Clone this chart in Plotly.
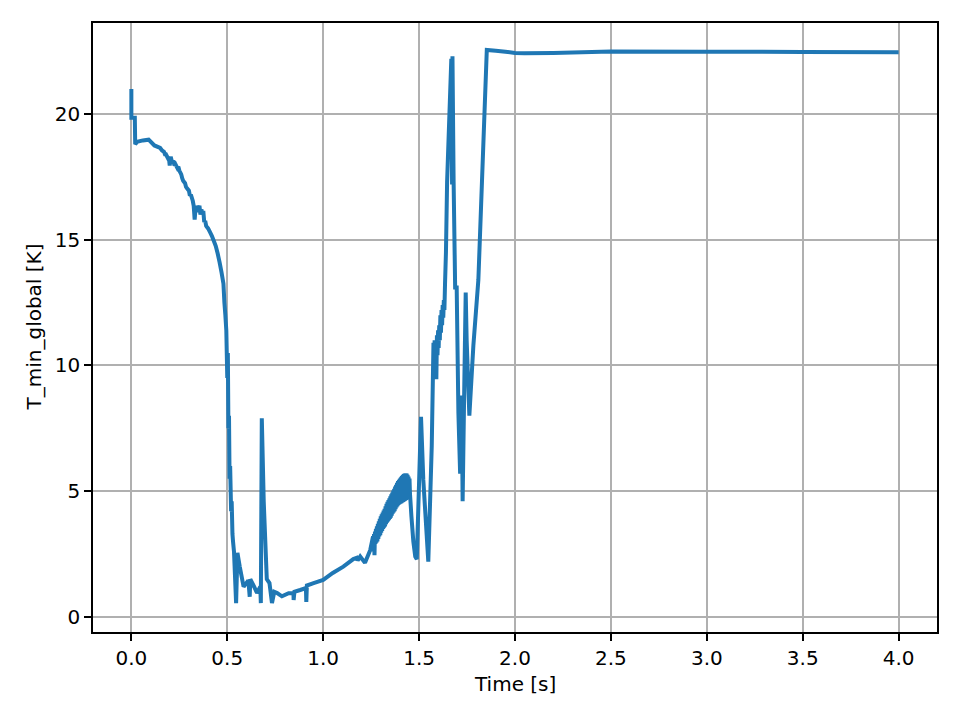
import plotly.graph_objects as go

# ---- values: Time [s] / T_min_global [K] ----
# start and slow decline
seg1_t = [0.0, 0.0, 0.018, 0.02, 0.03, 0.06, 0.09, 0.12, 0.15, 0.16, 0.17, 0.175, 0.18,
          0.19, 0.195, 0.2, 0.205, 0.21, 0.22, 0.225, 0.23, 0.24, 0.245, 0.25, 0.26, 0.265,
          0.27, 0.28, 0.285, 0.29, 0.30, 0.305, 0.31, 0.32, 0.325, 0.33, 0.335, 0.34, 0.345,
          0.35, 0.355, 0.36, 0.365, 0.37, 0.375, 0.38, 0.385, 0.39, 0.40, 0.41, 0.42, 0.43,
          0.44, 0.45, 0.46, 0.47, 0.48, 0.485, 0.49, 0.495]
seg1_T = [21.0, 19.85, 19.85, 18.8, 18.9, 18.95, 18.98, 18.75, 18.65, 18.55, 18.5, 18.4, 18.4,
          18.25, 18.3, 17.95, 18.3, 18.15, 18.1, 17.95, 18.0, 17.85, 17.9, 17.75, 17.6, 17.45,
          17.35, 17.25, 17.1, 17.05, 16.95, 16.75, 16.8, 16.55, 16.35, 15.8, 16.3, 16.1, 16.35,
          16.2, 16.35, 16.0, 16.2, 16.05, 16.15, 15.7, 15.75, 15.55, 15.45, 15.3, 15.15, 14.95,
          14.75, 14.45, 14.1, 13.7, 13.25, 12.5, 12.0, 11.4]

# drop and the low plateau
seg2_t = [0.5, 0.503, 0.506, 0.509, 0.512, 0.515, 0.52, 0.523, 0.527, 0.53, 0.535,
          0.546, 0.553, 0.565, 0.585, 0.61, 0.617, 0.62, 0.64, 0.655, 0.672, 0.675, 0.68,
          0.69, 0.706, 0.72, 0.733, 0.745, 0.76, 0.785, 0.82, 0.845, 0.846, 0.85, 0.88, 0.91,
          0.912, 0.915, 0.95, 1.0, 1.05, 1.105, 1.157, 1.175, 1.18, 1.193, 1.218, 1.245]
seg2_T = [9.5, 10.5, 7.5, 8.0, 5.5, 6.0, 4.2, 4.6, 3.3, 3.0, 2.6,
          0.55, 2.55, 2.0, 1.2, 1.45, 0.8, 1.5, 1.2, 0.95, 1.2, 0.55, 7.9,
          4.6, 1.5, 1.35, 0.55, 1.0, 0.95, 0.82, 0.94, 0.95, 0.67, 1.0, 1.07, 1.15,
          0.6, 1.25, 1.34, 1.47, 1.75, 2.0, 2.3, 2.35, 2.25, 2.4, 2.15, 2.65]

# oscillating band 1.26 - 1.45 s: upper and lower swings
band_hi_t = [1.260, 1.265, 1.270, 1.275, 1.280, 1.285, 1.290, 1.295, 1.300, 1.305, 1.310,
             1.315, 1.320, 1.325, 1.330, 1.335, 1.340, 1.345, 1.350, 1.355, 1.360, 1.365,
             1.370, 1.375, 1.380, 1.385, 1.390, 1.395, 1.400, 1.405, 1.410, 1.415, 1.420,
             1.425, 1.430, 1.435, 1.440, 1.445, 1.450]
band_hi_T = [3.2, 3.3, 3.4, 3.5, 3.6, 3.7, 3.8, 3.9, 4.0, 4.08, 4.15,
             4.23, 4.3, 4.4, 4.5, 4.58, 4.65, 4.72, 4.8, 4.88, 4.95, 5.03,
             5.1, 5.18, 5.25, 5.33, 5.4, 5.45, 5.5, 5.55, 5.6, 5.64, 5.68,
             5.7, 5.71, 5.7, 5.65, 5.58, 5.5]
band_lo_t = [1.2625, 1.2675, 1.2725, 1.2775, 1.2825, 1.2875, 1.2925, 1.2975, 1.3025, 1.3075,
             1.3125, 1.3175, 1.3225, 1.3275, 1.3325, 1.3375, 1.3425, 1.3475, 1.3525, 1.3575,
             1.3625, 1.3675, 1.3725, 1.3775, 1.3825, 1.3875, 1.3925, 1.3975, 1.4025, 1.4075,
             1.4125, 1.4175, 1.4225, 1.4275, 1.4325, 1.4375, 1.4425, 1.4475, 1.4525]
band_lo_T = [2.6, 2.45, 2.9, 2.95, 3.0, 3.1, 3.2, 3.25, 3.35, 3.42,
             3.5, 3.55, 3.6, 3.68, 3.75, 3.8, 3.85, 3.9, 3.95, 4.02,
             4.1, 4.15, 4.2, 4.28, 4.35, 4.4, 4.45, 4.48, 4.5, 4.52,
             4.55, 4.57, 4.6, 4.62, 4.65, 4.68, 4.7, 4.8, 4.9]

# recovery, spikes and final plateau
seg3_t = [1.46, 1.47, 1.48, 1.488,
          1.510, 1.522, 1.548, 1.566, 1.575, 1.578, 1.581, 1.584, 1.587, 1.59, 1.593, 1.596,
          1.599, 1.602, 1.605, 1.608, 1.611, 1.614, 1.617, 1.62, 1.623, 1.626, 1.629, 1.632,
          1.635, 1.64, 1.646, 1.668, 1.672, 1.674, 1.68, 1.688,
          1.696, 1.705, 1.714, 1.722, 1.727, 1.736, 1.743, 1.748, 1.762, 1.783, 1.809, 1.853,
          1.9, 1.95, 2.0, 2.05, 2.2, 2.5, 3.0, 3.5, 4.0]
seg3_T = [4.0, 3.0, 2.4, 2.3,
          7.96, 5.45, 2.2, 6.8, 10.9, 9.8, 11.0, 9.5, 10.8, 9.45, 11.2, 10.4,
          11.4, 10.7, 11.6, 11.0, 12.0, 11.3, 12.2, 11.6, 12.4, 11.9, 12.6, 12.2,
          13.2, 14.5, 17.3, 22.2, 17.2, 22.3, 17.3, 13.1,
          13.1, 8.1, 5.7, 8.8, 4.6, 9.4, 12.9, 11.0, 8.0, 10.8, 13.4, 22.55,
          22.52, 22.48, 22.43, 22.42, 22.43, 22.49, 22.48, 22.47, 22.46]

x_ticks = [0.0, 0.5, 1.0, 1.5, 2.0, 2.5, 3.0, 3.5, 4.0]
y_ticks = [0, 5, 10, 15, 20]

# assemble the time series in order (band: alternate upper/lower samples)
band_t, band_T = [], []
for th, vh, tl, vl in zip(band_hi_t, band_hi_T, band_lo_t, band_lo_T):
    band_t += [th, tl]
    band_T += [vh, vl]
time_s = seg1_t + seg2_t + band_t + seg3_t
t_min_global = seg1_T + seg2_T + band_T + seg3_T

FONT = "DejaVu Sans"
fig = go.Figure()
fig.add_trace(go.Scatter(
    x=time_s, y=t_min_global, mode="lines",
    line=dict(color="#1f77b4", width=4, simplify=False),
    showlegend=False,
))

axis_common = dict(
    showline=True, mirror=True, linecolor="black", linewidth=1.6,
    showgrid=True, gridcolor="#b0b0b0", gridwidth=1.6,
    zeroline=False, ticks="outside", ticklen=7, tickwidth=1.6, tickcolor="black",
    tickfont=dict(family=FONT, size=20, color="black"),
)

# page body has an 8px margin, so plot-area margins are shifted by 8px
fig.update_layout(
    width=960, height=720,
    margin=dict(l=85, r=31, t=15, b=96),
    paper_bgcolor="white", plot_bgcolor="white",
    font=dict(family=FONT, size=20, color="black"),
    xaxis=dict(range=[-0.2, 4.2], tickvals=x_ticks,
               ticktext=[f"{v:.1f}" for v in x_ticks], **axis_common),
    yaxis=dict(range=[-0.6, 23.62], tickvals=y_ticks,
               ticktext=[str(v) for v in y_ticks], **axis_common),
    annotations=[
        dict(text="Time [s]", xref="paper", yref="paper", x=0.5, y=0,
             xanchor="center", yanchor="middle", yshift=-52, showarrow=False,
             font=dict(family=FONT, size=20, color="black")),
        dict(text="T_min_global [K]", xref="paper", yref="paper", x=0, y=0.5,
             xanchor="center", yanchor="middle", xshift=-60, textangle=-90,
             showarrow=False, font=dict(family=FONT, size=20, color="black")),
    ],
)

fig.write_html("out.html")
